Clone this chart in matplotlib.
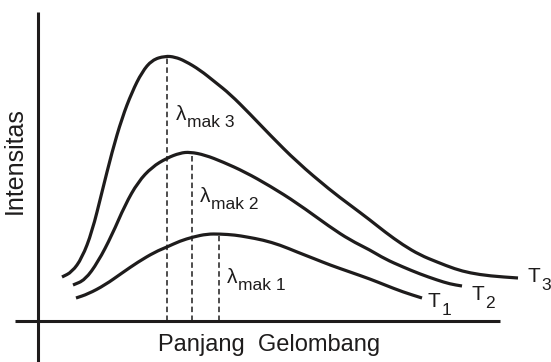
import matplotlib
matplotlib.use("Agg")
import matplotlib.pyplot as plt
from matplotlib.path import Path
from matplotlib.patches import PathPatch

plt.rcParams['font.family'] = ['Liberation Sans', 'DejaVu Sans']

# data (wavelength / intensity, arbitrary units)
wl_t3 = [24, 34, 44, 54, 64, 74, 84, 94, 104, 114, 127, 137, 147, 162, 177, 192, 212, 232,
         259, 292, 312, 332, 347, 365, 382, 399, 417, 432, 452, 480]
int_t3 = [44, 49, 63, 89, 129, 169, 203, 229, 249, 261, 265, 264, 260, 251, 239, 227, 207, 186,
          159, 131, 116, 101, 89, 76, 66, 59, 52, 48, 45, 43]

wl_t2 = [35, 47, 60, 74, 87, 100, 114, 129, 142, 152, 167, 185, 207, 232, 259, 292, 312, 332,
         347, 365, 382, 399, 412, 424]
int_t2 = [36, 41, 59, 86, 116, 139, 154, 163, 168, 169, 166, 159, 149, 135, 118, 94, 81, 71,
          62, 54, 47, 41, 37, 35]

wl_t1 = [38, 50, 67, 84, 100, 117, 129, 142, 155, 169, 182, 197, 209, 225, 242, 259, 277, 292,
         312, 332, 347, 365, 384]
int_t1 = [23, 27, 36, 48, 59, 69, 74, 80, 84, 87, 87, 86, 84, 81, 76, 69, 62, 56,
          49, 42, 36, 29, 23]

lam_max = [181, 154, 129]      # T1, T2, T3
peak_top = [85, 166, 265]
curve_names = ['T', 'T', 'T']
curve_subs = ['1', '2', '3']
lam_subs = ['mak 1', 'mak 2', 'mak 3']

ink = '#1e1c1c'

fig = plt.figure(figsize=(5.51, 3.62), dpi=100)
ax = fig.add_axes([0, 0, 1, 1])
ax.set_xlim(-38, 513)
ax.set_ylim(-41, 321)
ax.axis('off')

# axes lines
ax.plot([0, 0], [-41, 309], color=ink, lw=2.2, solid_capstyle='butt')
ax.plot([-23, 462], [0, 0], color=ink, lw=2.2, solid_capstyle='butt')


def smooth_curve(xs, ys):
    # quadratic bezier through the midpoints, points used as control points
    pts = list(zip(xs, ys))
    mid = lambda a, b: ((a[0] + b[0]) / 2, (a[1] + b[1]) / 2)
    verts = [pts[0], mid(pts[0], pts[1])]
    codes = [Path.MOVETO, Path.LINETO]
    for i in range(1, len(pts) - 1):
        verts += [pts[i], mid(pts[i], pts[i + 1])]
        codes += [Path.CURVE3, Path.CURVE3]
    verts.append(pts[-1])
    codes.append(Path.LINETO)
    ax.add_patch(PathPatch(Path(verts, codes), fill=False, edgecolor=ink, lw=2.3,
                           capstyle='butt', joinstyle='round'))


for wl, it in [(wl_t1, int_t1), (wl_t2, int_t2), (wl_t3, int_t3)]:
    smooth_curve(wl, it)

for x, top in zip(lam_max, peak_top):
    ax.plot([x, x], [0, top], color=ink, lw=1.1, dashes=(3.6, 2.2))


def sub_label(x, y, main, sub, size, sub_size, dy):
    t = ax.text(x, y, main, fontsize=size, color=ink, va='baseline', ha='left')
    ax.annotate(sub, xy=(1, 0), xycoords=t, xytext=(0.5, dy), textcoords='offset points',
                fontsize=sub_size, color=ink, va='bottom', ha='left')


lam_pos = [(189, 38), (162, 119), (138, 201)]
for (x, y), s in zip(lam_pos, lam_subs):
    sub_label(x, y, 'λ', s, 15, 12.5, -4)

t_pos = [(390, 14), (434, 21), (490, 39)]
for (x, y), n, s in zip(t_pos, curve_names, curve_subs):
    sub_label(x, y, n, s, 15, 12.5, -5)

ax.text(-23, 160, 'Intensitas', rotation=90, fontsize=18, color=ink, ha='center', va='center')
ax.text(231, -24, 'Panjang  Gelombang', fontsize=17, color=ink, ha='center', va='center')

fig.savefig('out.png', dpi=100)
